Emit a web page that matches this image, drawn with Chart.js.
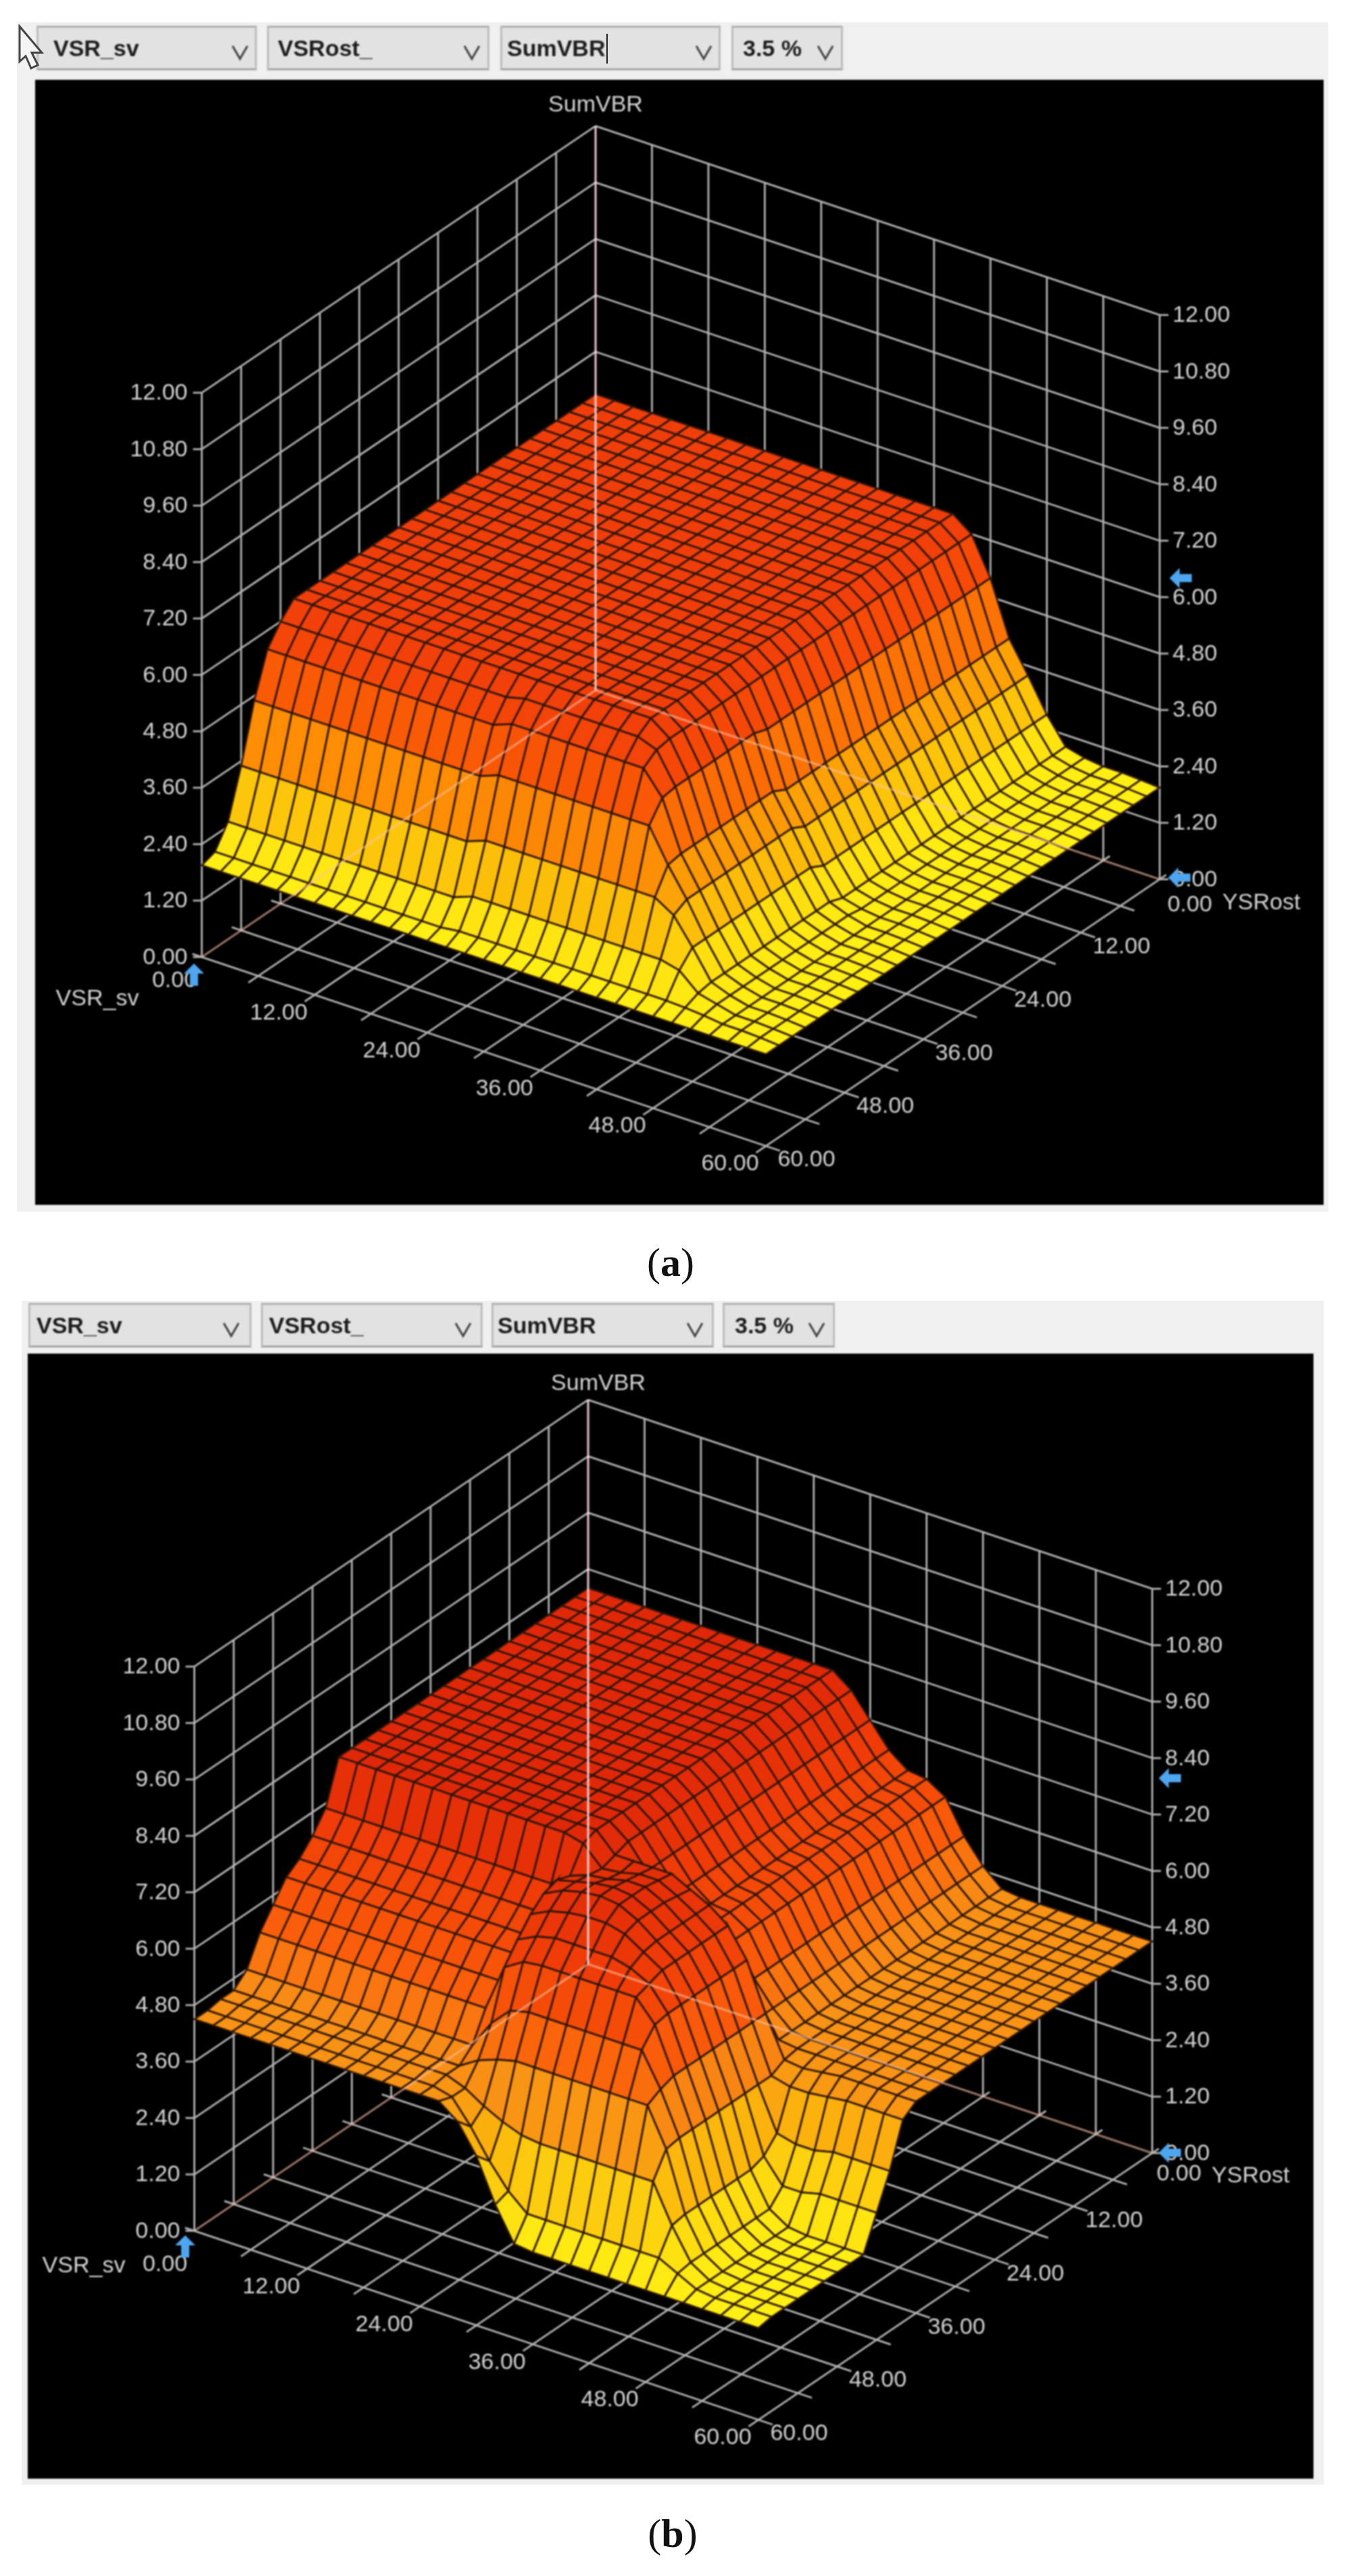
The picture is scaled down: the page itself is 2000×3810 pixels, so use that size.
<!DOCTYPE html>
<html>
<head>
<meta charset="utf-8">
<title>SumVBR surfaces</title>
<script src="https://cdn.jsdelivr.net/npm/chart.js@4/dist/chart.umd.min.js"></script>
<style>
  html, body { margin: 0; background: #fff; width: 2000px; height: 3810px; overflow: hidden; font-family: "Liberation Sans", Arial, sans-serif; }
  .frame { position: absolute; background: #f0f0f0; }
  .plot { position: absolute; background: #000; filter: blur(0.9px); }
  .combo { position: absolute; box-sizing: border-box; height: 66px; background: #e2e2e2; border: 3px solid #bdbdbd; border-top-color: #b0b0b0; border-bottom-color: #a6a6a6; filter: blur(0.8px); }
  .combo span { position: absolute; top: 50%; transform: translateY(-50%); font-size: 34px; font-weight: bold; color: #1c1c1c; white-space: nowrap; }
  .combo svg { position: absolute; top: 21px; width: 30px; height: 30px; }
  .caption { position: absolute; font-family: "Liberation Serif", serif; font-size: 60px; color: #111; transform: translate(-50%, -50%); }
</style>
</head>
<body>
<script>
// grid of the surface, both charts use the same one
var gridVsr = [0,2,4,6,8,10,12,14,16,18,20,22,24,26,28,30,32,34,36,38,40,42,44,46,48,50,52,54,56,58,60];
var gridYsr = [0,2,4,6,8,10,12,14,16,18,20,22,24,26,28,30,32,34,36,38,40,42,44,46,48,50,52,54,56,58,60];

// axis ticks
var sumTicks = [0,1.2,2.4,3.6,4.8,6,7.2,8.4,9.6,10.8,12];
var wallTicks = [0,6,12,18,24,30,36,42,48,54,60];
var floorLabels = [12,24,36,48,60];
var comboLabels = ["VSR_sv", "VSRost_", "SumVBR", "3.5 %"];

// chart (a) SumVBR, one row per YSRost value, 31 values along VSR_sv
var aBack = [6.3,6.3,6.3,6.3,6.3,6.3,6.3,6.3,6.3,6.3,6.3,6.3,6.3,6.3,6.3,6.3,6.3,6.3,6.3,6.3,6,5.2,4.05,3.4,2.7,2.15,2.05,2,2,1.98,1.95];
var a36 = [6.3,6.3,6.3,6.3,6.3,6.3,6.3,6.3,6.3,6.3,6.3,6.3,6.3,6.3,6.3,6.3,6.3,6.3,6.3,6.3,6,5.3,4.2,3.55,2.85,2.25,2.1,2,2,1.98,1.95];
var a48 = [6,6,6,6,6,6,6,6,6,6,6,6,6,6.1,6.1,6.1,6.1,6.1,6.1,6.1,5.95,5.3,4.2,3.55,2.85,2.25,2.1,2,2,1.98,1.95];
var a50 = [5.6,5.6,5.6,5.6,5.6,5.6,5.6,5.6,5.6,5.6,5.6,5.6,5.6,5.75,5.75,5.75,5.75,5.75,5.75,5.75,5.75,5.25,4.2,3.55,2.85,2.25,2.1,2,2,1.98,1.95];
var a52 = [4.7,4.7,4.7,4.7,4.7,4.7,4.7,4.7,4.7,4.7,4.7,4.7,4.7,4.85,4.85,4.85,4.85,4.85,4.85,4.85,4.85,4.85,4.15,3.55,2.85,2.25,2.1,2,2,1.98,1.95];
var a54 = [3.5,3.5,3.5,3.5,3.5,3.5,3.5,3.5,3.5,3.5,3.5,3.5,3.5,3.65,3.65,3.65,3.65,3.65,3.65,3.65,3.65,3.65,3.65,3.4,2.85,2.25,2.1,2,2,1.98,1.95];
var a56 = [2.5,2.5,2.5,2.5,2.5,2.5,2.5,2.5,2.5,2.5,2.5,2.5,2.5,2.65,2.65,2.65,2.65,2.65,2.65,2.65,2.65,2.65,2.65,2.65,2.55,2.2,2.1,2,2,1.98,1.95];
var a58 = [2.05,2.05,2.05,2.05,2.05,2.05,2.05,2.05,2.05,2.05,2.05,2.05,2.05,2.1,2.1,2.1,2.1,2.1,2.1,2.1,2.1,2.1,2.1,2.1,2.1,2.08,2.05,2,2,1.98,1.95];
var a60 = [1.95,1.95,1.95,1.95,1.95,1.95,1.95,1.95,1.95,1.95,1.95,1.95,1.95,1.95,1.95,1.95,1.95,1.95,1.95,1.95,1.95,1.95,1.95,1.95,1.95,1.95,1.95,1.95,1.95,1.95,1.95];
var surfaceA = [aBack,aBack,aBack,aBack,aBack,aBack,aBack,aBack,aBack,aBack,aBack,aBack,aBack,aBack,aBack,aBack,aBack,aBack,a36,a36,a36,a36,a36,a36,a48,a50,a52,a54,a56,a58,a60];

// chart (b) SumVBR
var bBack = [8,8,8,8,8,8,8,8,8,8,8,8,8,8,7.7,7.2,6.7,6.4,6.35,6.1,5.4,4.9,4.55,4.5,4.5,4.5,4.5,4.5,4.5,4.5,4.5];
var b36 = [8,8,8,8,8,8,8,8,8,8,8,8,8,8,7.6,7.6,7.6,7.6,7.4,7.2,6.9,6.3,5.3,4.45,4.4,4.45,4.5,4.5,4.5,4.5,4.5];
var b38 = [8,8,8,8,8,8,8,8,8,8,8,8,8,7.9,7.5,7.55,7.65,7.65,7.45,7.2,6.9,6.3,5.3,4.3,4.2,4.2,4.25,4.3,4.3,4.3,4.3];
var b40 = [7.1,7.1,7.1,7.1,7.1,7.1,7.1,7.1,7.1,7.1,7.1,7.1,7.1,7.4,7.55,7.6,7.7,7.7,7.5,7.2,6.9,6.3,5.3,4.3,3.4,3.3,3.3,3.4,3.4,3.4,3.4];
var b42 = [6.7,6.7,6.7,6.7,6.7,6.7,6.7,6.7,6.7,6.7,6.7,6.7,6.7,7.5,7.6,7.7,7.75,7.7,7.5,7.2,6.9,6.3,5.3,4.3,3.1,2.6,2.6,2.7,2.7,2.7,2.7];
var b44 = [6.4,6.4,6.4,6.4,6.4,6.4,6.4,6.4,6.4,6.4,6.4,6.4,6.4,7.4,7.6,7.7,7.75,7.7,7.5,7.2,6.9,6.3,5.3,4.3,3,2.3,2.05,2,2,2,2];
var b46 = [6.2,6.2,6.2,6.2,6.2,6.2,6.2,6.2,6.2,6.2,6.2,6.2,6.2,7.15,7.35,7.45,7.5,7.5,7.4,7.15,6.9,6.3,5.3,4.3,3,2.3,2.05,2,2,2,2];
var b48 = [5.8,5.8,5.8,5.8,5.8,5.8,5.8,5.8,5.8,5.8,5.8,5.8,5.8,6.8,7,7.1,7.1,7.1,7.1,7,6.8,6.3,5.3,4.3,3,2.3,2.05,2,2,2,2];
var b50 = [5.4,5.4,5.4,5.4,5.4,5.4,5.4,5.4,5.4,5.4,5.4,5.4,5.4,6.4,6.65,6.7,6.7,6.7,6.7,6.7,6.7,6.25,5.3,4.3,3,2.3,2.05,2,2,2,2];
var b52 = [4.8,4.8,4.8,4.8,4.8,4.8,4.8,4.8,4.8,4.8,4.8,4.8,4.8,5.4,5.8,5.9,5.9,5.9,5.9,5.9,5.9,5.9,5.2,4.3,3,2.3,2.05,2,2,2,2];
var b54 = [4.55,4.55,4.55,4.55,4.55,4.55,4.55,4.55,4.55,4.55,4.55,4.55,4.55,4.8,4.95,5.05,5.05,5.05,5.05,5.05,5.05,5.05,5.05,4.25,3,2.3,2.05,2,2,2,2];
var b56 = [4.55,4.55,4.55,4.55,4.55,4.55,4.55,4.55,4.55,4.55,4.55,4.55,4.55,4.4,4.15,3.95,3.8,3.75,3.75,3.75,3.75,3.75,3.75,3.75,2.95,2.3,2.05,2,2,2,2];
var b58 = [4.5,4.5,4.5,4.5,4.5,4.5,4.5,4.5,4.5,4.5,4.5,4.5,4.5,4.4,3.9,3.3,2.8,2.45,2.45,2.45,2.45,2.45,2.45,2.45,2.45,2.25,2.05,2,2,2,2];
var b60 = [4.5,4.5,4.5,4.5,4.5,4.5,4.5,4.5,4.5,4.5,4.5,4.5,4.5,4.5,4.2,3.6,2.7,2,1.95,1.95,1.95,1.95,1.95,1.95,1.95,1.95,1.95,1.95,1.95,1.95,1.95];
var surfaceB = [bBack,bBack,bBack,bBack,bBack,bBack,bBack,bBack,bBack,bBack,bBack,bBack,bBack,bBack,bBack,bBack,bBack,bBack,b36,b38,b40,b42,b44,b46,b48,b50,b52,b54,b56,b58,b60];

// colour ramps, low value to high value
var rampA = [[0,255,240,20],[0.15,253,222,15],[0.3,252,185,8],[0.5,252,140,5],[0.7,250,95,5],[0.85,245,72,8],[1,240,62,10]];
var rampB = [[0,255,240,20],[0.15,253,215,15],[0.3,251,178,12],[0.43,248,145,22],[0.6,250,95,10],[0.8,240,62,8],[1,224,40,8]];

// projection of the box on the canvas, in canvas pixels
var BACK = {x: 829, y: 903};
var LEFT = {x: 246.5, y: 1297.5};
var RIGHT = {x: 1663.5, y: 1182.5};
var Z_PX = 69.55;
var LABEL = "#d4d4d4";

function project(v, y, z) {
    return {
        x: BACK.x + v / 60 * (RIGHT.x - BACK.x) + y / 60 * (LEFT.x - BACK.x),
        y: BACK.y + v / 60 * (RIGHT.y - BACK.y) + y / 60 * (LEFT.y - BACK.y) - z * Z_PX
    };
}

function rampColor(ramp, t) {
    for (var k = 1; k < ramp.length; k++) {
        if (t <= ramp[k][0]) {
            var a = ramp[k - 1], b = ramp[k];
            var f = (t - a[0]) / (b[0] - a[0]);
            return "rgb(" + Math.round(a[1] + f * (b[1] - a[1])) + "," + Math.round(a[2] + f * (b[2] - a[2])) + "," + Math.round(a[3] + f * (b[3] - a[3])) + ")";
        }
    }
    var last = ramp[ramp.length - 1];
    return "rgb(" + last[1] + "," + last[2] + "," + last[3] + ")";
}

function lineSet(points, color, width) {
    return {data: points, showLine: true, borderColor: color, borderWidth: width, pointRadius: 0, fill: false, clip: false};
}

function buildDatasets(surface, ramp) {
    var sets = [];
    var zs = surface.reduce(function (acc, row) { return acc.concat(row); }, []);
    var zMin = Math.min.apply(null, zs), zMax = Math.max.apply(null, zs);

    // back edges show through the surface, first in the list is painted last
    sets.push(lineSet([project(0, 0, 0), project(0, 0, 12)], "rgba(255,225,230,0.9)", 3));
    sets.push(lineSet([project(0, 0, 0), project(0, 60, 0)], "rgba(255,195,170,0.6)", 3));
    sets.push(lineSet([project(0, 0, 0), project(60, 0, 0)], "rgba(255,195,170,0.6)", 3));

    // surface cells, front corner first so the back ones get painted before it
    var cells = [];
    for (var j = 0; j < gridYsr.length - 1; j++) {
        for (var i = 0; i < gridVsr.length - 1; i++) {
            cells.push({i: i, j: j});
        }
    }
    cells.sort(function (a, b) { return (b.i + b.j) - (a.i + a.j); });
    cells.forEach(function (c) {
        var z00 = surface[c.j][c.i], z10 = surface[c.j][c.i + 1], z11 = surface[c.j + 1][c.i + 1], z01 = surface[c.j + 1][c.i];
        var t = ((z00 + z10 + z11 + z01) / 4 - zMin) / (zMax - zMin);
        var p0 = project(gridVsr[c.i], gridYsr[c.j], z00);
        sets.push({
            data: [
                p0,
                project(gridVsr[c.i + 1], gridYsr[c.j], z10),
                project(gridVsr[c.i + 1], gridYsr[c.j + 1], z11),
                project(gridVsr[c.i], gridYsr[c.j + 1], z01),
                p0
            ],
            showLine: true,
            fill: "shape",
            backgroundColor: rampColor(ramp, t),
            borderColor: "rgba(40,20,8,0.95)",
            borderWidth: 2.7,
            pointRadius: 0,
            clip: false
        });
    });

    // walls and floor
    var gray = "#b2b2b2";
    wallTicks.forEach(function (t, n) {
        if (n > 0) {
            sets.push(lineSet([project(t, 0, 0), project(t, 0, 12)], gray, 2.8));
            sets.push(lineSet([project(t, -1, 0), project(t, 61.5, 0)], gray, 2.8));
            sets.push(lineSet([project(0, t, 0), project(0, t, 12)], gray, 2.8));
            sets.push(lineSet([project(-1, t, 0), project(61.5, t, 0)], gray, 2.8));
        }
    });
    sumTicks.forEach(function (z, n) {
        if (n > 0) {
            sets.push(lineSet([project(0, 0, z), project(60, 0, z)], gray, 2.8));
            sets.push(lineSet([project(0, 0, z), project(0, 60, z)], gray, 2.8));
        }
        var l = project(0, 60, z), r = project(60, 0, z);
        sets.push(lineSet([l, {x: l.x - 13, y: l.y}], gray, 2.8));
        sets.push(lineSet([r, {x: r.x + 13, y: r.y}], gray, 2.8));
    });
    return sets;
}

function drawArrow(ctx, x, y, dir) {
    ctx.save();
    ctx.translate(x, y);
    if (dir === "up") ctx.rotate(Math.PI / 2);
    ctx.fillStyle = "#4ea6ee";
    ctx.beginPath();
    ctx.moveTo(-17, 0);
    ctx.lineTo(-2, -15);
    ctx.lineTo(-2, -6);
    ctx.lineTo(16, -6);
    ctx.lineTo(16, 6);
    ctx.lineTo(-2, 6);
    ctx.lineTo(-2, 15);
    ctx.closePath();
    ctx.fill();
    ctx.restore();
}

function labelPlugin(spot) {
    return {
        id: "boxLabels",
        afterDatasetsDraw: function (chart) {
            var ctx = chart.ctx;
            var sx = chart.scales.x, sy = chart.scales.y;
            function text(str, x, y, align) {
                ctx.textAlign = align || "center";
                ctx.fillText(str, sx.getPixelForValue(x), sy.getPixelForValue(y));
            }
            ctx.save();
            ctx.font = "34px 'Liberation Sans'";
            ctx.fillStyle = LABEL;
            ctx.textBaseline = "middle";
            sumTicks.forEach(function (z) {
                var l = project(0, 60, z), r = project(60, 0, z);
                text(z.toFixed(2), l.x - 21, l.y + 1, "right");
                text(z.toFixed(2), r.x + 19, r.y + 1, "left");
            });
            floorLabels.forEach(function (t) {
                var a = project(t, 60, 0), b = project(60, t, 0);
                text(t.toFixed(2), a.x - 53, a.y + 27);
                text(t.toFixed(2), b.x + 60, b.y + 21);
            });
            text("0.00", spot.vsrZero.x, spot.vsrZero.y);
            text("0.00", spot.ysrZero.x, spot.ysrZero.y);
            text("VSR_sv", spot.vsrName.x, spot.vsrName.y);
            text("YSRost", spot.ysrName.x, spot.ysrName.y);
            text("SumVBR", spot.title.x, spot.title.y);
            drawArrow(ctx, spot.arrowZ.x, spot.arrowZ.y, "left");
            drawArrow(ctx, spot.arrowY.x, spot.arrowY.y, "left");
            drawArrow(ctx, spot.arrowV.x, spot.arrowV.y, "up");
            ctx.restore();
        }
    };
}

function addChart(left, top, w, h, surface, ramp, spot) {
    var canvas = document.createElement("canvas");
    canvas.className = "plot";
    canvas.width = w;
    canvas.height = h;
    canvas.style.left = left + "px";
    canvas.style.top = top + "px";
    canvas.style.width = w + "px";
    canvas.style.height = h + "px";
    document.body.appendChild(canvas);
    return new Chart(canvas, {
        type: "scatter",
        data: {datasets: buildDatasets(surface, ramp)},
        options: {
            responsive: false,
            animation: false,
            events: [],
            layout: {padding: 0},
            scales: {
                x: {type: "linear", min: 0, max: w, display: false},
                y: {type: "linear", min: 0, max: h, reverse: true, display: false}
            },
            plugins: {legend: {display: false}, tooltip: {enabled: false}}
        },
        plugins: [labelPlugin(spot)]
    });
}

function addBox(cls, x, y, w, h) {
    var d = document.createElement("div");
    d.className = cls;
    d.style.left = x + "px";
    d.style.top = y + "px";
    if (w) d.style.width = w + "px";
    if (h) d.style.height = h + "px";
    document.body.appendChild(d);
    return d;
}

function addCombo(x, y, w, label, textX, chevronX) {
    var d = addBox("combo", x, y, w);
    d.innerHTML = '<span style="left:' + (textX - x - 3) + 'px">' + label + '</span>' +
        '<svg style="left:' + (chevronX - x - 18) + 'px" viewBox="0 0 30 30"><polyline points="4,6 15,25 26,6" fill="none" stroke="#444" stroke-width="3"/></svg>';
}

function addCaption(letter, x, y) {
    var d = addBox("caption", x, y);
    d.innerHTML = '(<b>' + letter + '</b>)';
}

// chart (a)
addBox("frame", 25, 33, 1940, 1759);
addCombo(54, 38, 326, comboLabels[0], 79, 355);
addCombo(395, 38, 329, comboLabels[1], 411, 698);
addCombo(740, 38, 326, comboLabels[2], 750, 1041);
addCombo(1082, 38, 165, comboLabels[3], 1099, 1221);
addChart(52, 118, 1906, 1664, surfaceA, rampA, {
    vsrZero: {x: 206, y: 1333}, ysrZero: {x: 1708, y: 1221},
    vsrName: {x: 92, y: 1360}, ysrName: {x: 1814, y: 1218},
    title: {x: 829, y: 38},
    arrowZ: {x: 1695, y: 737}, arrowY: {x: 1693, y: 1180}, arrowV: {x: 235, y: 1324}
});
var caret = addBox("frame", 897, 50, 2, 44);
caret.style.background = "#222";
var cursor = document.createElement("div");
cursor.style.cssText = "position:absolute;left:26px;top:36px;width:40px;height:68px;";
cursor.innerHTML = '<svg width="40" height="68" viewBox="0 0 40 68"><path d="M3 3 L36 42 L21 42 L30 60 L20 65 L12 47 L3 55 Z" fill="#f4f4f4" stroke="#444" stroke-width="3"/></svg>';
document.body.appendChild(cursor);
addCaption("a", 992, 1867);

// chart (b)
addBox("frame", 32, 1924, 1926, 1751);
addCombo(42, 1927, 330, comboLabels[0], 54, 342);
addCombo(386, 1927, 328, comboLabels[1], 398, 685);
addCombo(727, 1927, 329, comboLabels[2], 736, 1028);
addCombo(1069, 1927, 166, comboLabels[3], 1087, 1208);
addChart(41, 2002, 1902, 1664, surfaceB, rampB, {
    vsrZero: {x: 203, y: 1348}, ysrZero: {x: 1703, y: 1214},
    vsrName: {x: 83, y: 1350}, ysrName: {x: 1809, y: 1217},
    title: {x: 844, y: 45},
    arrowZ: {x: 1690, y: 628}, arrowY: {x: 1690, y: 1182}, arrowV: {x: 233, y: 1321}
});
addCaption("b", 995, 3747);
</script>
</body>
</html>
